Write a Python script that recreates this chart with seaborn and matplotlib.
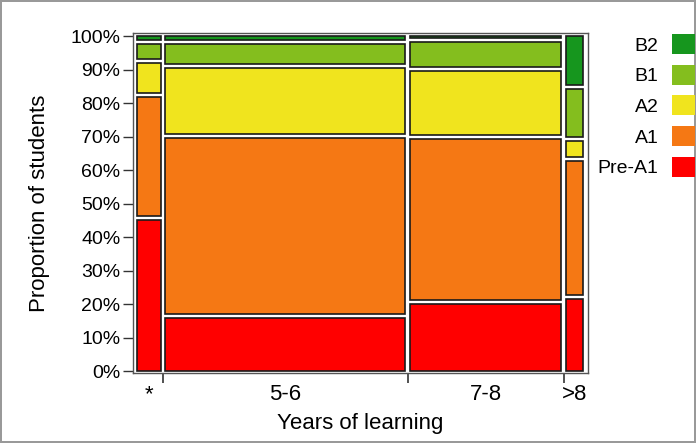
import numpy as np
import matplotlib
matplotlib.use("Agg")
import matplotlib.pyplot as plt
from matplotlib.patches import Patch
import seaborn as sns

# years of learning groups and their relative size (column widths)
groups = ["*", "5-6", "7-8", ">8"]
group_share = [0.055, 0.555, 0.35, 0.04]

# CEFR levels, bottom to top
levels = ["Pre-A1", "A1", "A2", "B1", "B2"]
level_colors = ["#FF0000", "#F57814", "#F0E41E", "#84BE1E", "#16961E"]

# % of students per level within each group
pct_star = [47.3, 37.3, 9.4, 4.7, 1.3]
pct_56 = [16.7, 55.2, 20.8, 6.0, 1.3]
pct_78 = [21.1, 50.3, 20.2, 7.8, 0.6]
pct_gt8 = [22.5, 42.1, 5.1, 15.1, 15.2]
pcts = [pct_star, pct_56, pct_78, pct_gt8]

sns.set_style("white", {"text.color": "black", "axes.labelcolor": "black",
                        "xtick.color": "#333333", "ytick.color": "#333333"})
plt.rcParams["font.family"] = ["Liberation Sans", "DejaVu Sans"]

fig = plt.figure(figsize=(6.96, 4.43), dpi=100)
fig.patch.set_edgecolor("#999999")
fig.patch.set_linewidth(1.5)
ax = fig.add_axes([0.191, 0.158, 0.654, 0.767])

palette = sns.color_palette(level_colors)
gx = 4.5 / 434
gy = 4.0 / 334

lefts = []
pos = 0.0
for w in group_share:
    lefts.append(pos)
    pos += w + gx
total = pos - gx

for left, w, p in zip(lefts, group_share, pcts):
    p = np.array(p) / np.sum(p)
    scale = 1 - gy * (len(p) - 1)
    bottom = 0.0
    for k, frac in enumerate(p):
        h = frac * scale
        ax.bar(left, h, width=w, bottom=bottom, align="edge",
               color=palette[k], edgecolor="#1a1a1a", linewidth=1.2)
        bottom += h + gy

ax.set_xlim(-4 / 434, total + 5 / 434)
ax.set_ylim(-2 / 334, 1 + 3 / 334)

yt = np.linspace(0, 1, 11)
ax.set_yticks(yt)
ax.set_yticklabels([f"{int(round(v * 100))}%" for v in yt], fontsize=14)
ax.tick_params(axis="y", left=True, length=7, width=1, labelcolor="black", pad=2)

bounds = [lefts[i] - gx / 2 for i in range(1, len(lefts))]
centers = [l + w / 2 for l, w in zip(lefts, group_share)]
ax.set_xticks(bounds)
ax.set_xticklabels([])
ax.tick_params(axis="x", which="major", bottom=True, length=7, width=1.2)
ax.set_xticks(centers, minor=True)
ax.set_xticklabels(groups, minor=True, fontsize=16)
ax.tick_params(axis="x", which="minor", bottom=True, length=0, pad=8, labelcolor="black")

for s in ax.spines.values():
    s.set_color("#555555")
    s.set_linewidth(1.0)

ax.set_xlabel("Years of learning", fontsize=16, labelpad=6)
ax.set_ylabel("Proportion of students", fontsize=16, labelpad=15)

handles = [Patch(facecolor=palette[k], edgecolor="none", label=levels[k])
           for k in range(len(levels) - 1, -1, -1)]
fig.legend(handles=handles, loc="upper right", bbox_to_anchor=(0.999, 0.923),
           frameon=False, fontsize=14, markerfirst=False, borderpad=0,
           borderaxespad=0, handlelength=1.18, handleheight=1.2,
           labelspacing=0.52, handletextpad=0.72, labelcolor="black")

fig.savefig("out.png", dpi=100, edgecolor=fig.get_edgecolor())
